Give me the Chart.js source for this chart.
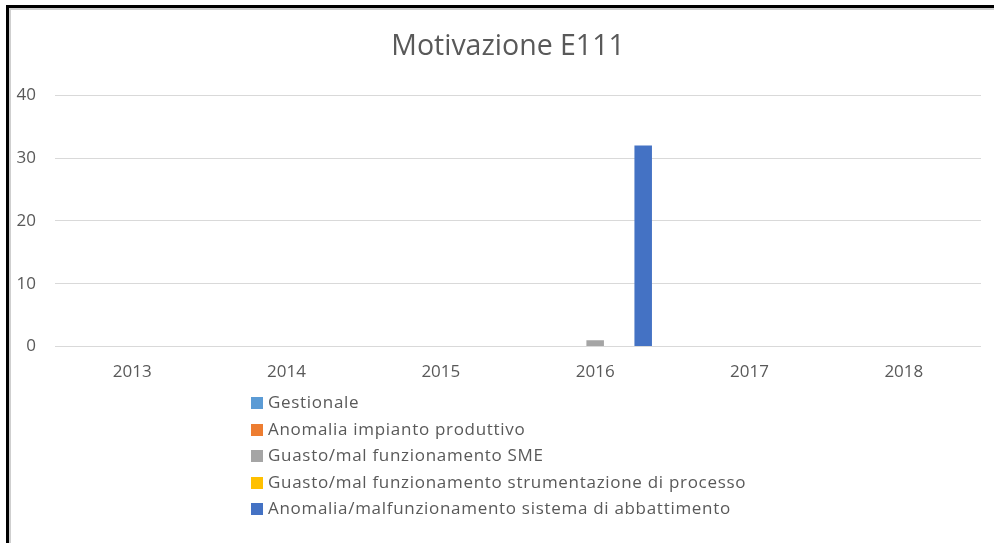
<!DOCTYPE html>
<html>
<head>
<meta charset="utf-8">
<script src="https://cdn.jsdelivr.net/npm/chart.js@4/dist/chart.umd.min.js"></script>
<style>
  html, body { margin: 0; padding: 0; background: #fff; overflow: hidden; }
  #frame {
    position: absolute; left: 6px; top: 5px; width: 1000px; height: 560px;
    border-left: 3px solid #000; border-top: 3px solid #000;
  }
  #inner {
    position: absolute; left: 0; top: 0; right: 0; bottom: 0;
    border-left: 2px solid #cfcfcf; border-top: 2px solid #cfcfcf;
  }
  #wrap { position: absolute; left: 10px; top: 8px; width: 996px; height: 535px; }
  #legend {
    position: absolute; left: 251px; top: 390px;
    font-family: "Open Sans", sans-serif; font-size: 17px; color: #595959;
    letter-spacing: 0.7px;
  }
  #legend div { height: 26.5px; line-height: 24px; white-space: nowrap; }
  #legend span.box {
    display: inline-block; width: 12px; height: 12px; margin-right: 5px;
    vertical-align: -1px;
  }
</style>
</head>
<body>
<div id="frame"><div id="inner"></div></div>
<div id="wrap"><canvas id="myChart"></canvas></div>
<div id="legend"></div>
<script>
// data
const years = ['2013', '2014', '2015', '2016', '2017', '2018'];
const seriesNames = [
  'Gestionale',
  'Anomalia impianto produttivo',
  'Guasto/mal funzionamento SME',
  'Guasto/mal funzionamento strumentazione di processo',
  'Anomalia/malfunzionamento sistema di abbattimento'
];
const gestionale = [0, 0, 0, 0, 0, 0];
const anomaliaImpianto = [0, 0, 0, 0, 0, 0];
const guastoSME = [0, 0, 0, 1, 0, 0];
const guastoStrumentazione = [0, 0, 0, 0, 0, 0];
const anomaliaAbbattimento = [0, 0, 0, 32, 0, 0];
const yTicks = [0, 10, 20, 30, 40];

const colors = ['#5B9BD5', '#ED7D31', '#A5A5A5', '#FFC000', '#4472C4'];
const values = [gestionale, anomaliaImpianto, guastoSME, guastoStrumentazione, anomaliaAbbattimento];

const ctx = document.getElementById('myChart').getContext('2d');
const chart = new Chart(ctx, {
  type: 'bar',
  data: {
    labels: years,
    datasets: seriesNames.map(function(name, i) {
      return {
        label: name,
        data: values[i],
        backgroundColor: colors[i],
        borderWidth: 0,
        categoryPercentage: 0.778,
        barPercentage: 0.73
      };
    })
  },
  options: {
    responsive: true,
    maintainAspectRatio: false,
    animation: false,
    layout: { padding: { left: 0, right: 0, top: 0, bottom: 154 } },
    plugins: {
      legend: { display: false },
      tooltip: { enabled: false },
      title: {
        display: true,
        text: 'Motivazione E111',
        color: '#595959',
        font: { family: 'Open Sans', size: 28.5, weight: 'normal' },
        padding: { top: 22, bottom: 31 }
      }
    },
    scales: {
      x: {
        grid: { display: false },
        border: { display: false },
        ticks: {
          color: '#595959',
          font: { family: 'Open Sans', size: 17 },
          padding: 7
        }
      },
      y: {
        min: yTicks[0],
        max: yTicks[yTicks.length - 1],
        afterFit: function(scale) { scale.width = 45; },
        grid: { color: '#d9d9d9', lineWidth: 1, drawTicks: false },
        border: { display: false },
        ticks: {
          stepSize: yTicks[1] - yTicks[0],
          color: '#595959',
          font: { family: 'Open Sans', size: 17 },
          padding: 19
        }
      },
      // empty right axis, only to keep the right margin
      yRight: {
        position: 'right',
        afterFit: function(scale) { scale.width = 25; },
        grid: { display: false },
        border: { display: false },
        ticks: { display: false }
      }
    }
  }
});

// vertical legend below the chart, built from the chart's datasets
const legend = document.getElementById('legend');
chart.data.datasets.forEach(function(ds) {
  const row = document.createElement('div');
  const box = document.createElement('span');
  box.className = 'box';
  box.style.background = ds.backgroundColor;
  row.appendChild(box);
  row.appendChild(document.createTextNode(ds.label));
  legend.appendChild(row);
});
</script>
</body>
</html>
